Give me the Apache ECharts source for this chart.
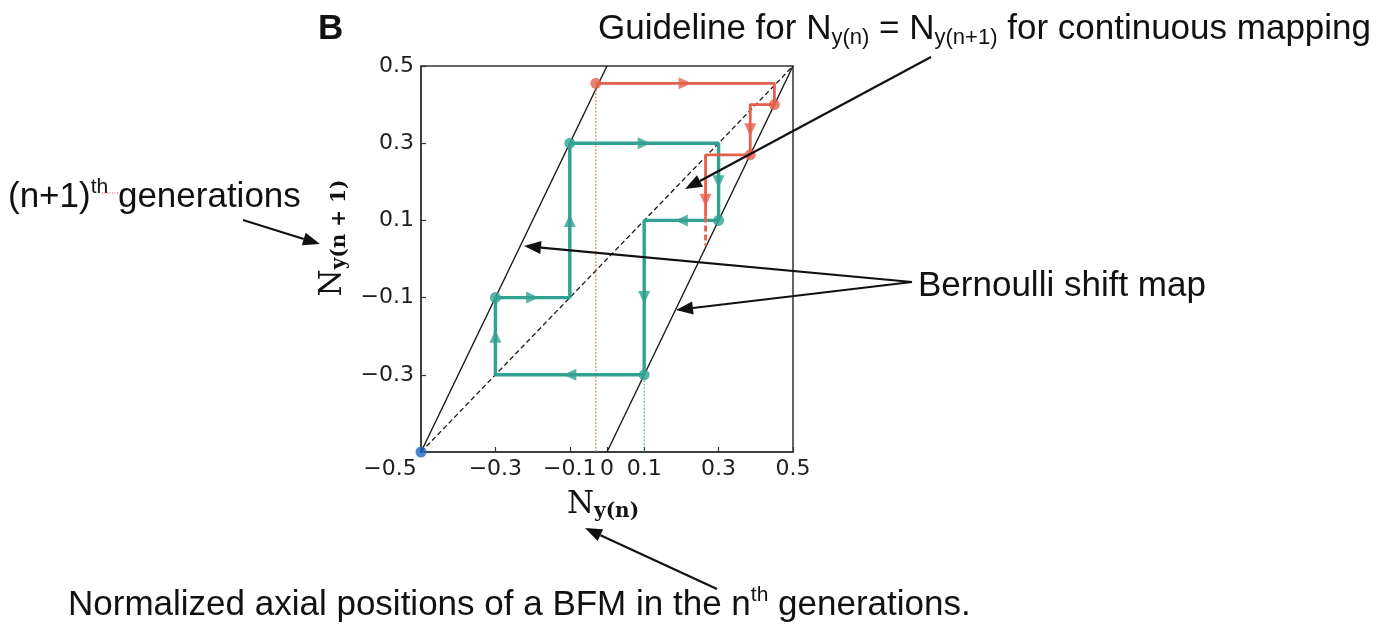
<!DOCTYPE html>
<html>
<head>
<meta charset="utf-8">
<script src="https://cdn.jsdelivr.net/npm/echarts@6.0.0/dist/echarts.min.js"></script>
<style>
  html, body { margin: 0; padding: 0; background: #ffffff; }
  #chart { width: 1394px; height: 637px; }
</style>
</head>
<body>
<div id="chart"></div>
<script>
// Bernoulli shift map branches: y = 2x + 0.5 (left) and y = 2x - 0.5 (right)
const mapLeft = [[-0.5, -0.5], [0, 0.5]];
const mapRight = [[0, -0.5], [0.5, 0.5]];
// guideline y = x
const identityLine = [[-0.5, -0.5], [0.5, 0.5]];

// periodic orbit 0.1 -> -0.3 -> -0.1 -> 0.3 -> 0.1 (cobweb steps)
const tealPath = [[0.1, -0.3], [-0.3, -0.3], [-0.3, -0.1], [-0.1, -0.1], [-0.1, 0.3],
                  [0.3, 0.3], [0.3, 0.1], [0.1, 0.1], [0.1, -0.3]];
const tealPoints = [[0.1, -0.3], [-0.3, -0.1], [-0.1, 0.3], [0.3, 0.1]];
const tealArrowSegments = [0, 1, 2, 3, 4, 5, 6, 7];
const tealStart = [[0.1, -0.5], [0.1, -0.3]];

// diverging orbit starting just left of 0
const redPath = [[-0.03, 0.455], [0.45, 0.455], [0.45, 0.4], [0.385, 0.4], [0.385, 0.27],
                 [0.265, 0.27], [0.265, 0.035]];
const redDashFrom = 0.11;
const redPoints = [[-0.03, 0.455], [0.45, 0.4], [0.385, 0.27]];
const redArrowSegments = [0, 3, 5];
const redStart = [[-0.03, -0.5], [-0.03, 0.455]];

const originPoint = [[-0.5, -0.5]];

const xTicks = [-0.5, -0.3, -0.1, 0, 0.1, 0.3, 0.5];
const yTicks = [-0.3, -0.1, 0.1, 0.3, 0.5];

const TEAL = '#32a192';
const RED = '#e3604d';
const INK = '#111111';

function fmt(v) {
  if (v === 0) return '0';
  return (v < 0 ? '\u2212' : '') + String(Math.abs(v));
}

// direction markers at the middle of chosen path segments
function arrowMarks(path, segs) {
  return segs.map(function (i) {
    const a = path[i], b = path[i + 1];
    const dx = b[0] - a[0], dy = b[1] - a[1];
    const rot = Math.abs(dx) > Math.abs(dy) ? (dx > 0 ? -90 : 90) : (dy > 0 ? 0 : 180);
    return { value: [(a[0] + b[0]) / 2, (a[1] + b[1]) / 2], symbolRotate: rot };
  });
}

function line(data, color, width, type, z, opacity) {
  return {
    type: 'line', data: data, symbol: 'none', showSymbol: false, silent: true,
    clip: false, z: z,
    lineStyle: { color: color, width: width, type: type || 'solid', opacity: opacity == null ? 1 : opacity }
  };
}

function dots(data, color, size, z) {
  return {
    type: 'scatter', data: data, symbol: 'circle', symbolSize: size, silent: true,
    clip: false, z: z, itemStyle: { color: color }
  };
}

function markers(data, color, z) {
  return {
    type: 'scatter', data: data, symbol: 'triangle', symbolSize: [12, 13], silent: true,
    z: z, itemStyle: { color: color }
  };
}

const redLast = redPath[redPath.length - 1];
const redSolid = redPath.slice(0, -1).concat([[redLast[0], redDashFrom]]);
const redDashed = [[redLast[0], redDashFrom], redLast];

// annotation arrow: straight shaft with a filled head at (x2, y2)
function pointer(x1, y1, x2, y2) {
  const ang = Math.atan2(y2 - y1, x2 - x1), L = 17, W = 6.5;
  const bx = x2 - L * Math.cos(ang), by = y2 - L * Math.sin(ang);
  const px = -Math.sin(ang) * W, py = Math.cos(ang) * W;
  return [
    { type: 'line', z: 100, shape: { x1: x1, y1: y1, x2: bx, y2: by },
      style: { stroke: INK, lineWidth: 2.2 } },
    { type: 'polygon', z: 100, shape: { points: [[x2, y2], [bx + px, by + py], [bx - px, by - py]] },
      style: { fill: INK } }
  ];
}

const sansFont = '"Liberation Sans", Arial, sans-serif';
const serifFont = '"DejaVu Serif", serif';

function label(x, y, text, rich) {
  return {
    type: 'text', x: x, y: y, z: 100,
    style: {
      text: text, font: '35px ' + sansFont, fill: INK, align: 'left', verticalAlign: 'middle',
      rich: rich || {}
    }
  };
}

const subRich = { s: { fontSize: 22, fontFamily: sansFont, fill: INK, padding: [17, 0, 0, 0] } };
const supRich = { t: { fontSize: 21, fontFamily: sansFont, fill: INK, padding: [0, 0, 20, 0] } };

const chart = echarts.init(document.getElementById('chart'), null, { renderer: 'canvas' });

const option = {
  animation: false,
  backgroundColor: '#ffffff',
  grid: {
    left: 421, top: 66, width: 372, height: 386,
    show: true, borderColor: '#333333', borderWidth: 1.5, backgroundColor: 'transparent'
  },
  xAxis: {
    type: 'value', min: -0.5, max: 0.5,
    axisLine: { show: true, onZero: false, lineStyle: { color: '#333333', width: 1.5 } },
    axisTick: { show: true, inside: true, length: 5, customValues: xTicks,
                lineStyle: { color: '#333333', width: 1.2 } },
    axisLabel: {
      customValues: xTicks, margin: 6, color: '#1e1e1e', fontSize: 22, fontFamily: '"DejaVu Sans", sans-serif',
      formatter: function (v) { return v === -0.5 ? '{edge|' + fmt(v) + '}' : fmt(v); },
      rich: { edge: { fontSize: 22, fontFamily: '"DejaVu Sans", sans-serif', color: '#1e1e1e', padding: [0, 62, 0, 0] } }
    },
    splitLine: { show: false }
  },
  yAxis: {
    type: 'value', min: -0.5, max: 0.5,
    axisLine: { show: true, onZero: false, lineStyle: { color: '#333333', width: 1.5 } },
    axisTick: { show: true, inside: true, length: 5, customValues: yTicks,
                lineStyle: { color: '#333333', width: 1.2 } },
    axisLabel: {
      customValues: yTicks, margin: 7, color: '#1e1e1e', fontSize: 22, fontFamily: '"DejaVu Sans", sans-serif',
      formatter: fmt
    },
    splitLine: { show: false }
  },
  series: [
    line(mapLeft, '#1a1a1a', 1.4, 'solid', 2),
    line(mapRight, '#1a1a1a', 1.4, 'solid', 2),
    line(identityLine, '#1a1a1a', 1.3, [5, 3], 2),
    line(tealStart, TEAL, 1.2, [2, 1.5], 3, 0.8),
    line(redStart, RED, 1.2, [2, 1.5], 3, 0.8),
    line(tealPath, TEAL, 3.4, 'solid', 4),
    line(redSolid, RED, 2.8, 'solid', 5),
    line(redDashed, RED, 2.8, [6, 3], 5),
    markers(arrowMarks(tealPath, tealArrowSegments), TEAL, 6),
    markers(arrowMarks(redPath, redArrowSegments), RED, 7),
    dots(tealPoints, TEAL, 11, 8),
    dots(redPoints, RED, 11, 9),
    dots(originPoint, '#2368c4', 11, 9)
  ],
  graphic: [
    { type: 'text', x: 318, y: 29, z: 100,
      style: { text: 'B', font: 'bold 35px ' + sansFont, fill: INK, verticalAlign: 'middle' } },
    label(598, 29, 'Guideline for N{s|y(n)} = N{s|y(n+1)} for continuous mapping', subRich),
    label(8, 197, '(n+1){t|th} generations', supRich),
    { type: 'line', z: 100, shape: { x1: 102, y1: 193, x2: 119, y2: 193 },
      style: { stroke: '#e05050', lineWidth: 1, lineDash: [1, 1.5] } },
    label(918, 286, 'Bernoulli shift map'),
    label(68, 605, 'Normalized axial positions of a BFM in the n{t|th} generations.', supRich),
    // axis titles
    { type: 'text', x: 603, y: 505, z: 100,
      style: { text: 'N{s|y(n)}', font: '31px ' + serifFont, fill: INK, align: 'center', verticalAlign: 'middle',
               rich: { s: { fontSize: 20, fontFamily: serifFont, fontWeight: 'bold', fill: INK, padding: [14, 0, 0, 0] } } } },
    { type: 'text', x: 333, y: 238, rotation: Math.PI / 2, z: 100,
      style: { text: 'N{s|y(n + 1)}', font: '31px ' + serifFont, fill: INK, align: 'center', verticalAlign: 'middle',
               rich: { s: { fontSize: 20, fontFamily: serifFont, fontWeight: 'bold', fill: INK, padding: [14, 0, 0, 0] } } } }
  ]
    .concat(pointer(931, 57, 685, 189))
    .concat(pointer(243, 220, 320, 244))
    .concat(pointer(912, 282, 524, 246))
    .concat(pointer(912, 282, 676, 310))
    .concat(pointer(717, 589, 585, 528))
};

chart.setOption(option);
</script>
</body>
</html>
